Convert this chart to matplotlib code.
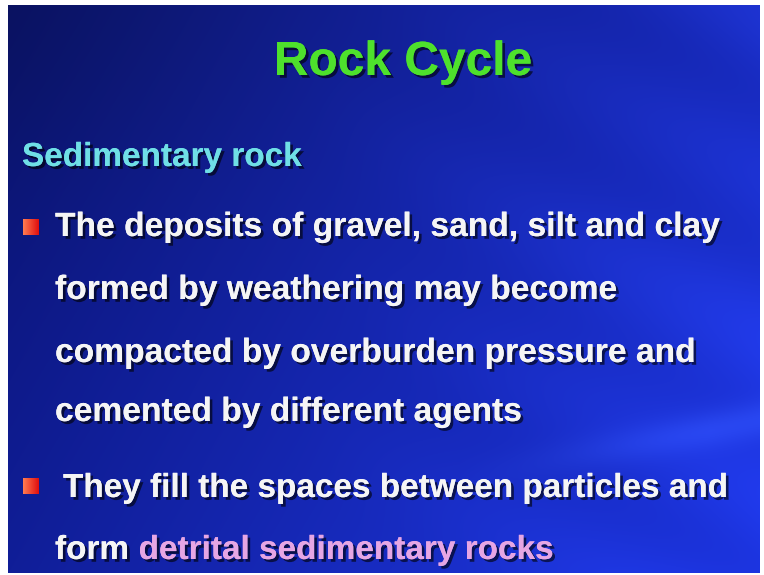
import numpy as np
import matplotlib
matplotlib.use("Agg")
import matplotlib.pyplot as plt
import matplotlib.patheffects as pe
from matplotlib.colors import LinearSegmentedColormap

# slide content
title = "Rock Cycle"
subtitle = "Sedimentary rock"
bullet1_lines = [
    "The deposits of gravel, sand, silt and clay",
    "formed by weathering may become",
    "compacted by overburden pressure and",
    "cemented by different agents",
]
bullet2_line = "They fill the spaces between particles and"
last_plain = "form "
last_pink = "detrital sedimentary rocks"

W, H = 764, 575


def background():
    yy, xx = np.mgrid[0:H, 0:W]
    xn = xx / W
    yn = yy / H
    r = 10 + 16 * xn + 6 * yn
    g = 18 + 28 * xn + 12 * yn
    b = 112 + 85 * xn + 40 * yn
    # darker corner top-left
    corner = np.exp(-((xn / 0.45) ** 2 + (yn / 0.35) ** 2))
    b = b - 15 * corner
    # diagonal sheen streaks
    u = xn * 0.55 - yn * 0.85
    streak = np.sin(u * 26) * 0.6 + np.sin(u * 11 + 1.3) * 0.4
    mask = np.clip((xn - 0.4) * 1.5, 0, 1)
    r = r + 4 * streak * mask
    g = g + 6 * streak * mask
    b = b + 14 * streak * mask
    # faint light bands lower right
    v = (yn - 0.78 + (xn - 0.8) * 0.25) ** 2 * 900
    band = np.exp(-v) * np.clip((xn - 0.6) * 3, 0, 1)
    r = r + 12 * band
    g = g + 18 * band
    b = b + 20 * band
    img = np.dstack([r, g, b]) / 255.0
    return np.clip(img, 0, 1)


def main():
    fig = plt.figure(figsize=(W / 100, H / 100), dpi=100, facecolor="white")
    ax = fig.add_axes([0, 0, 1, 1])
    ax.set_xlim(0, W)
    ax.set_ylim(H, 0)
    ax.axis("off")

    ax.imshow(background(), extent=[8, 760, 573, 5], aspect="auto", zorder=0)

    shadow = [pe.withSimplePatchShadow(offset=(2, -2), shadow_rgbFace="black", alpha=0.6),
              pe.Normal()]
    sans = "Liberation Sans"

    ax.text(403, 75, title, color="#4ee12c", fontsize=34.5, fontweight="bold",
            family=sans, ha="center", va="baseline", path_effects=shadow)
    ax.text(22, 166, subtitle, color="#6fdfe6", fontsize=24, fontweight="bold",
            family=sans, ha="left", va="baseline", path_effects=shadow)

    bullet_cmap = LinearSegmentedColormap.from_list("b", ["#ff7a50", "#e01010"])
    for by in [219, 478]:
        grad = np.linspace(0, 1, 20).reshape(1, -1)
        ax.imshow(grad, cmap=bullet_cmap, extent=[23, 39, by + 16, by], aspect="auto", zorder=2)

    baselines = [236, 299, 362, 421]
    for line, yb in zip(bullet1_lines, baselines):
        ax.text(55, yb, line, color="#f5f5f5", fontsize=24.2, fontweight="bold",
                family=sans, ha="left", va="baseline", path_effects=shadow)

    ax.text(63, 497, bullet2_line, color="#f5f5f5", fontsize=24, fontweight="bold",
            family=sans, ha="left", va="baseline", path_effects=shadow)

    t = ax.text(55, 559, last_plain, color="#f5f5f5", fontsize=24, fontweight="bold",
                family=sans, ha="left", va="baseline", path_effects=shadow)
    fig.canvas.draw()
    bb = t.get_window_extent()
    x_end = ax.transData.inverted().transform((bb.x1, bb.y0))[0]
    ax.text(x_end, 559, last_pink, color="#e6a6e4", fontsize=24, fontweight="bold",
            family=sans, ha="left", va="baseline", path_effects=shadow)

    fig.savefig("out.png", dpi=100, facecolor="white")


if __name__ == "__main__":
    main()
